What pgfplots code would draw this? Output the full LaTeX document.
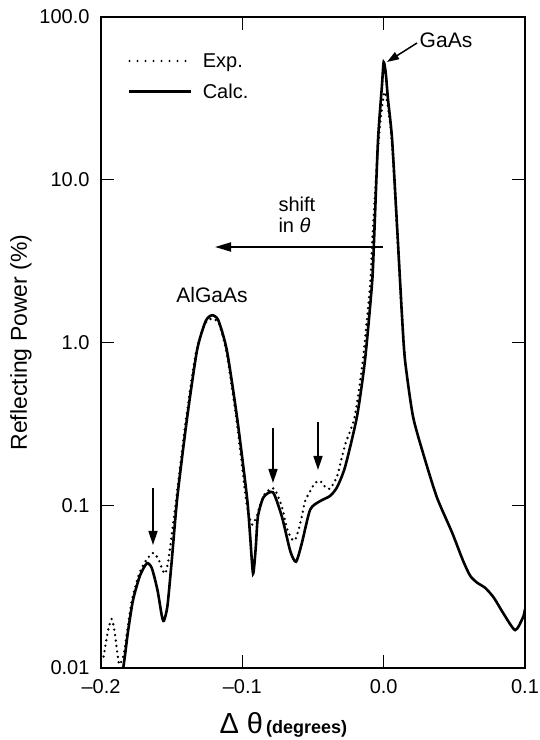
\documentclass[border=0pt]{standalone}
\usepackage{fontspec}
\setmainfont{Liberation Sans}
\usepackage{pgfplots}
\pgfplotsset{compat=1.18}
\usetikzlibrary{arrows.meta}

\newcommand{\lbl}{\fontsize{20}{24}\selectfont}

\pgfplotstableread{
x y
-0.2000 0.0120
-0.1985 0.0115
-0.1970 0.0135
-0.1950 0.0170
-0.1925 0.0200
-0.1905 0.0170
-0.1885 0.0125
-0.1870 0.0105
-0.1840 0.0120
-0.1810 0.0180
-0.1780 0.0265
-0.1730 0.0380
-0.1680 0.0460
-0.1630 0.0510
-0.1590 0.0460
-0.1565 0.0400
-0.1545 0.0380
-0.1525 0.0450
-0.1500 0.0650
-0.1470 0.1050
-0.1400 0.3300
-0.1330 0.8500
-0.1265 1.3000
-0.1215 1.4000
-0.1165 1.3000
-0.1110 0.8500
-0.1040 0.3300
-0.0975 0.1100
-0.0950 0.0850
-0.0930 0.0760
-0.0900 0.0850
-0.0853 0.1130
-0.0800 0.1260
-0.0770 0.1250
-0.0720 0.0980
-0.0684 0.0720
-0.0650 0.0620
-0.0627 0.0610
-0.0600 0.0720
-0.0578 0.0860
-0.0556 0.1060
-0.0520 0.1220
-0.0486 0.1370
-0.0450 0.1410
-0.0415 0.1300
-0.0380 0.1260
-0.0330 0.1500
-0.0300 0.1900
-0.0270 0.2400
-0.0205 0.3500
-0.0147 0.7800
-0.0095 2.3000
-0.0080 4.2700
-0.0052 11.000
-0.0025 22.000
0.0005 34.600
0.0030 28.000
0.0060 16.500
0.0100 4.0000
0.0130 1.4400
0.0151 0.7800
}\expdata

\pgfplotstableread{
x y
-0.1850 0.0090
-0.1830 0.0120
-0.1810 0.0165
-0.1774 0.0260
-0.1724 0.0370
-0.1675 0.0440
-0.1640 0.0410
-0.1600 0.0300
-0.1570 0.0210
-0.1555 0.0195
-0.1530 0.0240
-0.1500 0.0450
-0.1460 0.1120
-0.1390 0.3480
-0.1320 0.9000
-0.1260 1.3500
-0.1215 1.4700
-0.1170 1.3700
-0.1110 0.9000
-0.1038 0.3500
-0.0967 0.1120
-0.0945 0.0650
-0.0924 0.0380
-0.0905 0.0550
-0.0890 0.0850
-0.0850 0.1120
-0.0783 0.1200
-0.0720 0.0850
-0.0660 0.0520
-0.0620 0.0450
-0.0580 0.0580
-0.0520 0.0940
-0.0450 0.1060
-0.0380 0.1140
-0.0330 0.1290
-0.0273 0.1720
-0.0189 0.3500
-0.0132 0.7800
-0.0082 2.3200
-0.0068 4.2700
-0.0040 17.500
-0.0012 38.000
0.0000 52.800
0.0015 45.000
0.0031 31.000
0.0060 17.500
0.0102 4.0000
0.0130 1.4400
0.0151 0.7800
0.0208 0.3500
0.0293 0.1900
0.0378 0.1110
0.0484 0.0680
0.0560 0.0460
0.0611 0.0370
0.0660 0.0335
0.0720 0.0310
0.0780 0.0270
0.0845 0.0218
0.0930 0.0171
0.0986 0.0205
0.1000 0.0230
}\calcdata

\begin{document}
\begin{tikzpicture}
\path[use as bounding box] (-101pt,-72pt) rectangle (439pt,668pt);
\begin{axis}[
    scale only axis,
    width=424pt, height=651pt,
    at={(0,0)}, anchor=south west,
    xmin=-0.2, xmax=0.1,
    ymode=log, ymin=0.01, ymax=100,
    xtick={-0.2,-0.1,0,0.1},
    xticklabels={–0.2,–0.1,0.0,0.1},
    ytick={0.01,0.1,1,10,100},
    yticklabels={0.01,0.1,1.0,10.0,100.0},
    yminorticks=false,
    tick align=inside,
    major tick length=13pt,
    axis line style={line width=1.6pt},
    every tick/.style={black, line width=1.5pt},
    tick label style={font=\lbl},
    xticklabel style={yshift=-8pt},
    yticklabel style={xshift=-8pt},
    ylabel={Reflecting Power (\%)},
    ylabel style={font=\fontsize{23}{26}\selectfont, at={(axis description cs:0,0.5)}, anchor=center, yshift=80pt},
    xlabel={{\fontsize{29}{30}\selectfont Δ θ}\hspace{3pt}{\bfseries\fontsize{18}{20}\selectfont (degrees)}},
    xlabel style={at={(axis description cs:0.43,0)}, anchor=base, yshift=-65pt},
    legend style={draw=none, fill=none, font=\lbl,
        at={(axis description cs:0,1)}, anchor=north west,
        xshift=27pt, yshift=-37pt,
        inner xsep=0pt, inner ysep=0pt,
        nodes={inner sep=0pt, text depth=0pt},
        row sep=16.5pt, column sep=10pt},
    legend cell align=left,
    legend image code/.code={\draw[#1] (0pt,0pt) -- (62pt,0pt);},
  ]
  \addlegendimage{black, line width=2.2pt, line cap=round, dash pattern=on 0pt off 8pt}
  \addlegendentry{Exp.}
  \addlegendimage{black, line width=2.6pt}
  \addlegendentry{Calc.}
  \addplot[forget plot, black, line width=2.6pt, line cap=round, dash pattern=on 0pt off 5.5pt, smooth, tension=0.4]
    table[x=x, y=y] {\expdata};
  \addplot[forget plot, black, line width=2.6pt, smooth, tension=0.4]
    table[x=x, y=y] {\calcdata};
\end{axis}
% annotations (1pt = 1px of the reference, origin at the axis corner)
\node[font=\fontsize{21}{24}\selectfont] at (345pt,628pt) {GaAs};
\draw[line width=1.5pt, -{Triangle[length=12pt, width=8pt]}] (316pt,625pt) -- (286pt,606pt);
\node[font=\fontsize{21}{24}\selectfont] at (111pt,373pt) {AlGaAs};
\node[font=\lbl, anchor=base west] at (174pt,456pt) {shift};
\node[font=\lbl, anchor=base west] at (174pt,435pt) {in \textit{θ}};
\draw[line width=1.8pt, -{Triangle[length=16pt, width=9pt]}] (282pt,421pt) -- (114pt,421pt);
\draw[line width=1.5pt, -{Triangle[length=14pt, width=9pt]}] (52pt,180pt) -- (52pt,123pt);
\draw[line width=1.5pt, -{Triangle[length=14pt, width=9pt]}] (172pt,240pt) -- (172pt,185pt);
\draw[line width=1.5pt, -{Triangle[length=14pt, width=9pt]}] (217pt,246pt) -- (217pt,198pt);
\end{tikzpicture}
\end{document}
